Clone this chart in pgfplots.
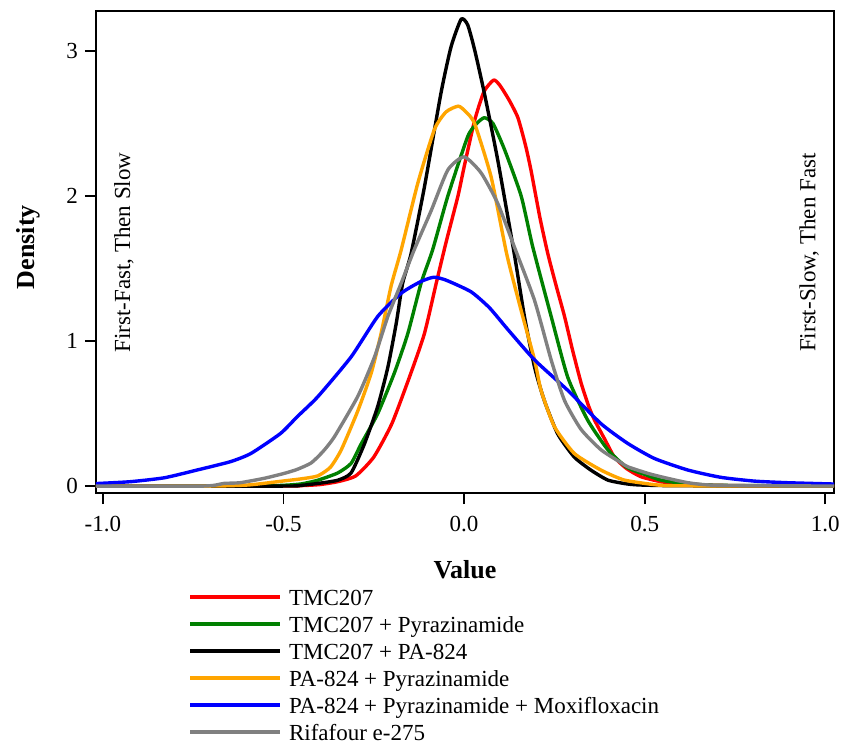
\documentclass[border=0pt]{standalone}
\usepackage{fontspec}
\setmainfont{Liberation Serif}
\usepackage{pgfplots}
\pgfplotsset{compat=1.18}
\definecolor{cred}{RGB}{255,0,0}
\definecolor{cgreen}{RGB}{0,128,0}
\definecolor{corange}{RGB}{255,165,0}
\definecolor{cblue}{RGB}{0,0,255}
\definecolor{cgray}{RGB}{128,128,128}
\begin{document}
\begin{tikzpicture}
\path[use as bounding box] (-48pt,-126.5pt) rectangle (373pt,246.5pt);
\begin{axis}[
  at={(0pt,0pt)}, anchor=south west,
  scale only axis, width=369pt, height=241pt,
  xmin=-1.019, xmax=1.024, ymin=-0.048, ymax=3.276,
  xtick={-1,-0.5,0,0.5,1}, ytick={0,1,2,3},
  xticklabel style={yshift=-2.5pt, /pgf/number format/.cd,fixed,fixed zerofill,precision=1},
  /pgf/number format/assume math mode=true,
  tick label style={font=\fontsize{11.5}{13}\selectfont},
  tick align=outside, major tick length=5.5pt,
  tick style={black, line width=0.9pt},
  xtick pos=bottom, ytick pos=left,
  axis line style={line width=1pt},
  every axis x label/.style={at={(axis description cs:0.5,0)}, yshift=-38.5pt, anchor=center},
  every axis y label/.style={at={(axis description cs:0,0.51)}, xshift=-34pt, rotate=90, anchor=center},
  xlabel={\textbf{Value}}, ylabel={\textbf{Density}},
  label style={font=\fontsize{13}{15}\selectfont\bfseries},
  legend cell align=left,
  legend image code/.code={\draw[#1] (0pt,2pt) -- (45pt,2pt); \path (48.5pt,2pt);},
  legend style={at={(axis description cs:0.125,-0.195)}, anchor=north west, draw=none, fill=none,
    font=\fontsize{11.5}{13}\selectfont, inner sep=0pt, row sep=0pt,
    nodes={inner sep=0pt, text height=9pt, text depth=4.5pt}},
  every axis plot/.append style={line width=1.7pt, line join=round, smooth, tension=0.35},
]
\addplot[cred] coordinates {
(-1.02,0) (-0.5,0) (-0.45,0.003) (-0.4,0.01) (-0.35,0.03) (-0.3,0.07) (-0.25,0.2) (-0.2,0.43) (-0.15,0.76) (-0.11,1.05) (-0.077,1.40) (-0.05,1.68) (-0.017,2.0) (0.0,2.2) (0.029,2.52) (0.055,2.72) (0.082,2.80) (0.1,2.76) (0.125,2.66) (0.149,2.54) (0.17,2.35) (0.185,2.18) (0.21,1.85) (0.232,1.6) (0.255,1.38) (0.278,1.17) (0.3,0.94) (0.324,0.71) (0.345,0.55) (0.361,0.455) (0.39,0.32) (0.416,0.20) (0.45,0.12) (0.49,0.064) (0.545,0.03) (0.6,0.015) (0.7,0.005) (0.8,0.002) (1.024,0)
};
\addlegendentry{TMC207}
\addplot[cgreen] coordinates {
(-1.02,0) (-0.6,0) (-0.5,0.005) (-0.45,0.015) (-0.405,0.04) (-0.35,0.09) (-0.313,0.156) (-0.285,0.29) (-0.239,0.5) (-0.193,0.78) (-0.156,1.05) (-0.119,1.4) (-0.087,1.63) (-0.045,2.0) (0.01,2.41) (0.035,2.5) (0.056,2.54) (0.08,2.5) (0.112,2.32) (0.158,2.0) (0.19,1.65) (0.241,1.17) (0.287,0.75) (0.342,0.455) (0.398,0.25) (0.45,0.13) (0.5,0.08) (0.545,0.041) (0.6,0.02) (0.7,0.005) (1.024,0)
};
\addlegendentry{TMC207 + Pyrazinamide}
\addplot[black] coordinates {
(-1.02,0) (-0.5,0) (-0.45,0.005) (-0.405,0.018) (-0.35,0.04) (-0.313,0.09) (-0.276,0.29) (-0.239,0.55) (-0.211,0.82) (-0.188,1.12) (-0.17,1.40) (-0.147,1.6) (-0.11,2.06) (-0.064,2.71) (-0.036,3.03) (-0.008,3.22) (0.01,3.18) (0.029,3.01) (0.056,2.71) (0.093,2.25) (0.139,1.6) (0.167,1.17) (0.195,0.82) (0.222,0.59) (0.259,0.36) (0.305,0.2) (0.351,0.11) (0.398,0.041) (0.45,0.015) (0.49,0.007) (0.6,0.002) (1.024,0)
};
\addlegendentry{TMC207 + PA-824}
\addplot[corange] coordinates {
(-1.02,0) (-0.7,0) (-0.6,0.007) (-0.55,0.02) (-0.5,0.035) (-0.45,0.05) (-0.405,0.07) (-0.37,0.13) (-0.34,0.25) (-0.294,0.52) (-0.257,0.78) (-0.23,1.05) (-0.202,1.38) (-0.174,1.63) (-0.128,2.09) (-0.082,2.46) (-0.05,2.58) (-0.016,2.62) (0.005,2.58) (0.029,2.50) (0.075,2.13) (0.118,1.6) (0.158,1.21) (0.195,0.87) (0.213,0.66) (0.25,0.41) (0.305,0.225) (0.379,0.11) (0.444,0.041) (0.536,0.007) (0.6,0.002) (1.024,0)
};
\addlegendentry{PA-824 + Pyrazinamide}
\addplot[cblue] coordinates {
(-1.02,0.017) (-0.924,0.03) (-0.83,0.057) (-0.74,0.11) (-0.647,0.168) (-0.59,0.225) (-0.508,0.363) (-0.462,0.478) (-0.405,0.616) (-0.313,0.89) (-0.239,1.17) (-0.174,1.33) (-0.12,1.41) (-0.084,1.44) (-0.05,1.42) (0.019,1.34) (0.07,1.23) (0.121,1.08) (0.195,0.87) (0.287,0.66) (0.379,0.43) (0.453,0.294) (0.527,0.19) (0.62,0.11) (0.711,0.06) (0.804,0.034) (0.896,0.023) (1.024,0.014)
};
\addlegendentry{PA-824 + Pyrazinamide + Moxifloxacin}
\addplot[cgray] coordinates {
(-1.02,0) (-0.72,0) (-0.665,0.018) (-0.62,0.023) (-0.554,0.053) (-0.497,0.088) (-0.462,0.115) (-0.423,0.16) (-0.39,0.24) (-0.359,0.34) (-0.294,0.62) (-0.248,0.89) (-0.211,1.17) (-0.174,1.40) (-0.138,1.63) (-0.091,1.90) (-0.045,2.18) (0.0,2.27) (0.047,2.16) (0.093,1.95) (0.139,1.65) (0.195,1.28) (0.241,0.87) (0.278,0.59) (0.324,0.39) (0.379,0.25) (0.435,0.16) (0.453,0.133) (0.508,0.088) (0.545,0.064) (0.62,0.023) (0.7,0.005) (1.024,0)
};
\addlegendentry{Rifafour e-275}
\node[rotate=90, font=\fontsize{11.5}{13}\selectfont] at (axis cs:-0.942,1.61) {First-Fast, Then Slow};
\node[rotate=90, font=\fontsize{11.5}{13}\selectfont] at (axis cs:0.955,1.61) {First-Slow, Then Fast};
\end{axis}
\end{tikzpicture}
\end{document}
